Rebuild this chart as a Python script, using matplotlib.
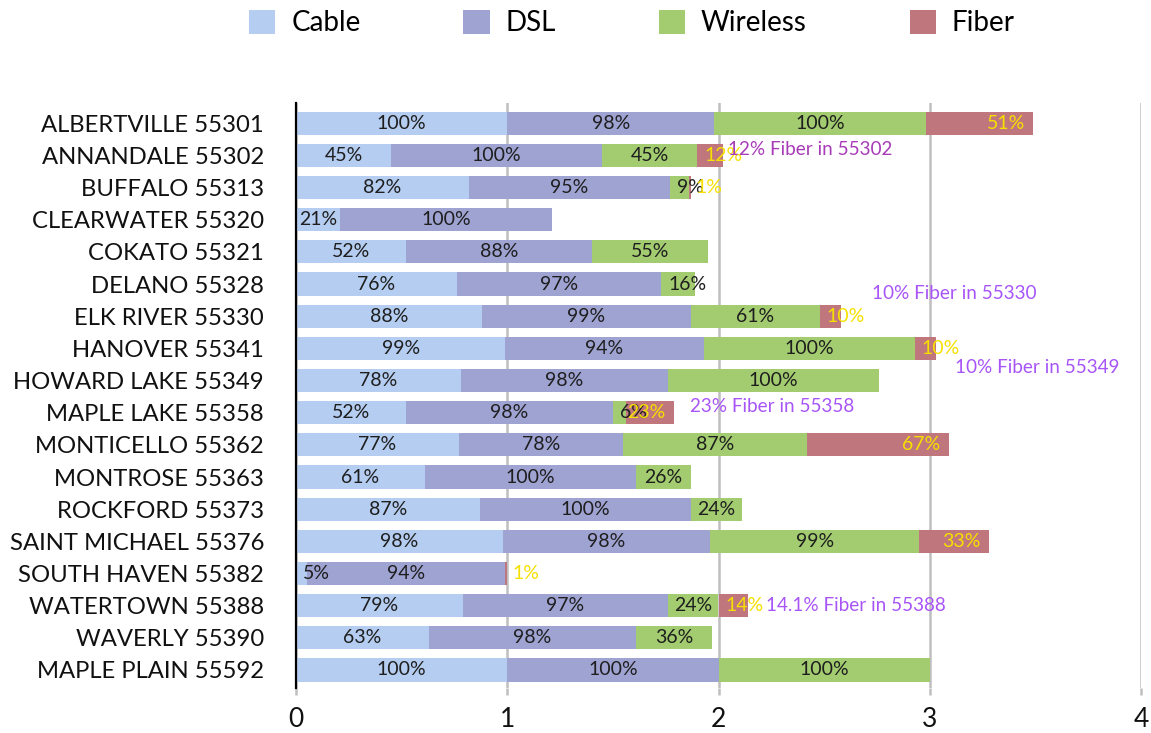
import matplotlib
matplotlib.use("Agg")
import matplotlib.pyplot as plt
from matplotlib.patches import Patch

plt.rcParams['font.family'] = ['Lato', 'DejaVu Sans']

categories = ["ALBERTVILLE 55301", "ANNANDALE 55302", "BUFFALO 55313", "CLEARWATER 55320",
              "COKATO 55321", "DELANO 55328", "ELK RIVER 55330", "HANOVER 55341",
              "HOWARD LAKE 55349", "MAPLE LAKE 55358", "MONTICELLO 55362", "MONTROSE 55363",
              "ROCKFORD 55373", "SAINT MICHAEL 55376", "SOUTH HAVEN 55382", "WATERTOWN 55388",
              "WAVERLY 55390", "MAPLE PLAIN 55592"]
cable = [1.00, 0.45, 0.82, 0.21, 0.52, 0.76, 0.88, 0.99, 0.78, 0.52, 0.77, 0.61, 0.87, 0.98, 0.05, 0.79, 0.63, 1.00]
dsl = [0.98, 1.00, 0.95, 1.00, 0.88, 0.97, 0.99, 0.94, 0.98, 0.98, 0.78, 1.00, 1.00, 0.98, 0.94, 0.97, 0.98, 1.00]
wireless = [1.00, 0.45, 0.09, 0.0, 0.55, 0.16, 0.61, 1.00, 1.00, 0.06, 0.87, 0.26, 0.24, 0.99, 0.0, 0.24, 0.36, 1.00]
fiber = [0.51, 0.12, 0.01, 0.0, 0.0, 0.0, 0.10, 0.10, 0.0, 0.23, 0.67, 0.0, 0.0, 0.33, 0.01, 0.141, 0.0, 0.0]

series_names = ["Cable", "DSL", "Wireless", "Fiber"]
series_colors = ["#b4cdf0", "#9fa3d2", "#a3cc70", "#bf767c"]

note_texts = ["12% Fiber in 55302", "10% Fiber in 55330", "10% Fiber in 55349",
              "23% Fiber in 55358", "14.1% Fiber in 55388"]
note_x = [2.045, 2.727, 3.12, 1.865, 2.225]
note_y = [0.82, 5.30, 7.60, 8.82, 14.98]
note_colors = ["#a83cb8", "#a855f7", "#a855f7", "#a855f7", "#a855f7"]

fig = plt.figure(figsize=(11.51, 7.33), dpi=100)
ax = fig.add_axes([296/1151, 1-688/733, (1141-296)/1151, (688-103)/733])

n = len(categories)
ys = list(range(n))
all_series = [cable, dsl, wireless, fiber]
lefts = [0.0] * n
bar_h = 0.72
label_color = "#1e1e1e"
fiber_label_color = "#f5e000"

for si, (vals, col) in enumerate(zip(all_series, series_colors)):
    ax.barh(ys, vals, left=lefts, height=bar_h, color=col, zorder=2)
    for i, v in enumerate(vals):
        if v <= 0:
            continue
        txt = f"{round(v*100):.0f}%"
        start = lefts[i]
        end = start + v
        c = fiber_label_color if si == 3 else label_color
        if v < 0.2:
            ax.annotate(txt, (start, i), xytext=(5, 0), textcoords='offset points',
                        ha='left', va='center', fontsize=14, color=c, zorder=4)
        elif si == 3:
            ax.annotate(txt, (end, i), xytext=(-6, 0), textcoords='offset points',
                        ha='right', va='center', fontsize=14, color=c, zorder=4)
        else:
            ax.text(start + v / 2, i, txt, ha='center', va='center', fontsize=14,
                    color=c, zorder=4)
    lefts = [l + v for l, v in zip(lefts, vals)]

for t, x, y, c in zip(note_texts, note_x, note_y, note_colors):
    ax.text(x, y, t, ha='left', va='center', fontsize=13.6, color=c, zorder=5)

ax.set_xlim(0, 4)
ax.set_ylim(n - 1 + 0.56, -0.63)
ax.set_yticks(ys)
ax.set_yticklabels(categories, fontsize=17.2, color="#111111")
ax.set_xticks([0, 1, 2, 3, 4])
ax.set_xticklabels(["0", "1", "2", "3", "4"], fontsize=19, color="#111111")
ax.tick_params(axis='y', length=0, pad=23)
ax.tick_params(axis='x', length=5, width=1.8, color="#bfbfbf", pad=9)
ax.xaxis.grid(True, color="#bfbfbf", linewidth=1.8, zorder=0)
ax.set_axisbelow(True)
for s in ["top", "right", "bottom"]:
    ax.spines[s].set_visible(False)
ax.spines["left"].set_color("black")
ax.spines["left"].set_linewidth(1.6)
ax.spines["left"].set_zorder(3)
ax.get_xticklines()[0].set_color("black")

handles = [Patch(facecolor=c, edgecolor='none') for c in series_colors]
fig.legend(handles, series_names, loc='center', bbox_to_anchor=(632/1151, 1-23/733),
           ncol=4, frameon=False, fontsize=20, handlelength=0.94, handleheight=0.94,
           handletextpad=0.58, columnspacing=3.7)

fig.savefig("out.png", dpi=100)
